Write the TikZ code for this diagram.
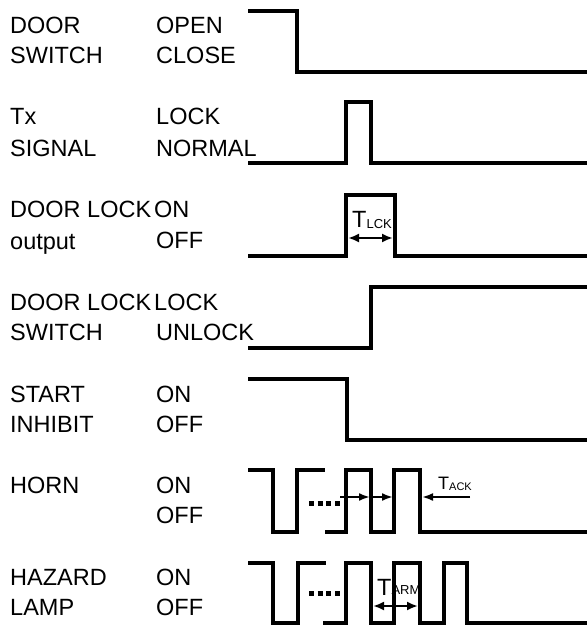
\documentclass[tikz,border=0pt]{standalone}
\usepackage{fontspec}
\setmainfont{Liberation Sans}
\usetikzlibrary{arrows.meta}

\begin{document}
\begin{tikzpicture}[x=1pt, y=-1pt,
    lbl/.style={anchor=base west, inner sep=0pt, font=\fontsize{23.5}{28}\selectfont},
    wave/.style={line width=4.4pt},
    tarr/.style={line width=2.2pt, -{Latex[length=11pt,width=8pt]}},
    tspan/.style={line width=2.2pt, {Latex[length=11pt,width=9pt]}-{Latex[length=11pt,width=9pt]}},
    dotrow/.style={line width=5pt, dash pattern=on 5pt off 3.7pt}]
        \useasboundingbox (0,0) rectangle (587,628);
        % door switch
        \node[lbl] (ds1) at (10,34) {DOOR};   \node[lbl] (ds2) at (156,34) {OPEN};
        \node[lbl] (ds3) at (10,64) {SWITCH}; \node[lbl] (ds4) at (156,64) {CLOSE};
        \draw[wave] (248,11) -| (297,72) -- (587,72);
        % tx signal
        \node[lbl] (tx1) at (10,125) {Tx};     \node[lbl] (tx2) at (156,125) {LOCK};
        \node[lbl] (tx3) at (10,157) {SIGNAL}; \node[lbl] (tx4) at (156,157) {NORMAL};
        \draw[wave] (248,163) -| (346,102) -| (371,163) -- (587,163);
        % door lock output
        \node[lbl] (dl1) at (10,217) {DOOR LOCK}; \node[lbl] (dl2) at (154,217) {ON};
        \node[lbl] (dl3) at (10,249) {output};    \node[lbl] (dl4) at (156,248) {OFF};
        \draw[wave] (248,256) -| (346,195) -| (395,256) -- (587,256);
        \node[lbl] (tlck) at (352,227) {T\raisebox{-1pt}{\fontsize{13}{15}\selectfont LCK}};
        \draw[tspan] (348,238) -- (393,238);
        % door lock switch
        \node[lbl] (dw1) at (10,310) {DOOR LOCK}; \node[lbl] (dw2) at (154,310) {LOCK};
        \node[lbl] (dw3) at (10,340) {SWITCH};    \node[lbl] (dw4) at (156,340) {UNLOCK};
        \draw[wave] (248,348) -| (371,287) -- (587,287);
        % start inhibit
        \node[lbl] (si1) at (10,402) {START};   \node[lbl] (si2) at (156,402) {ON};
        \node[lbl] (si3) at (10,432) {INHIBIT}; \node[lbl] (si4) at (156,432) {OFF};
        \draw[wave] (248,379) -| (347,440) -- (587,440);
        % horn
        \node[lbl] (hn1) at (10,493) {HORN}; \node[lbl] (hn2) at (156,493) {ON};
        \node[lbl] (hn3) at (156,523) {OFF};
        \draw[wave] (248,470) -| (273,532) -| (297,470) -- (325,470);
        \draw[wave] (325,532) -| (346,470) -| (371,532) -| (394,470) -| (420,532) -- (587,532);
        \draw[dotrow] (309,503) -- (340,503);
        \draw[tarr] (340,497) -- (370,497);
        \draw[tarr] (372,497) -- (393,497);
        \draw[tarr] (470,497) -- (422,497);
        \node[lbl, font=\fontsize{18}{22}\selectfont] (tack) at (438,489) {T\raisebox{-1pt}{\fontsize{11}{13}\selectfont ACK}};
        % hazard lamp
        \node[lbl] (hz1) at (10,585) {HAZARD}; \node[lbl] (hz2) at (156,585) {ON};
        \node[lbl] (hz3) at (10,615) {LAMP};   \node[lbl] (hz4) at (156,615) {OFF};
        \draw[wave] (248,563) -| (273,623) -| (298,563) -- (326,563);
        \draw[wave] (323,623) -| (346,563) -| (371,623) -| (394,563) -| (420,623) -| (444,563) -| (467,623) -- (587,623);
        \draw[dotrow] (309,593) -- (340,593);
        \node[lbl] (tarm) at (377,595) {T\raisebox{1pt}{\fontsize{13}{15}\selectfont ARM}};
        \draw[tspan] (373,606) -- (418,606);
\end{tikzpicture}
\end{document}
